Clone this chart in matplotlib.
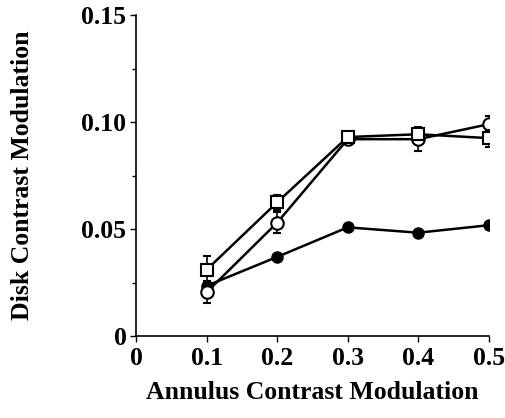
import matplotlib
matplotlib.use("Agg")
import matplotlib.pyplot as plt
from matplotlib.ticker import MultipleLocator

# data
annulus = [0.1, 0.2, 0.3, 0.4, 0.5]
square_vals = [0.031, 0.0625, 0.093, 0.0943, 0.0925]
square_err = [0.0065, 0.0035, 0.0015, 0.002, 0.004]
open_vals = [0.0205, 0.053, 0.092, 0.092, 0.099]
open_err = [0.005, 0.005, 0.0015, 0.0055, 0.004]
filled_vals = [0.0235, 0.037, 0.0508, 0.0483, 0.0518]

x_ticks = [0, 0.1, 0.2, 0.3, 0.4, 0.5]
x_labels = ["0", "0.1", "0.2", "0.3", "0.4", "0.5"]
y_ticks = [0, 0.05, 0.10, 0.15]
y_labels = ["0", "0.05", "0.10", "0.15"]

plt.rcParams["font.family"] = ["Liberation Serif", "DejaVu Serif"]
plt.rcParams["font.weight"] = "bold"

fig = plt.figure(figsize=(5.06, 4.18), dpi=100)
ax = fig.add_axes([0.269, 0.196, 0.697, 0.768])

lw = 1.8
ax.errorbar(annulus, filled_vals, color="black", lw=lw, marker="o", ms=8,
            mfc="black", mec="black", zorder=2)
ax.errorbar(annulus, open_vals, yerr=open_err, color="black", lw=lw, marker="o",
            ms=9, mfc="white", mec="black", mew=1.5, capsize=3, elinewidth=1.2,
            zorder=3)
ax.errorbar(annulus, square_vals, yerr=square_err, color="black", lw=lw, marker="s",
            ms=9, mfc="white", mec="black", mew=1.5, capsize=3, elinewidth=1.2,
            zorder=4)

ax.set_xlim(0, 0.5)
ax.set_ylim(0, 0.15)
ax.set_xticks(x_ticks)
ax.set_xticklabels(x_labels, fontsize=18.5, fontweight="bold")
ax.set_yticks(y_ticks)
ax.set_yticklabels(y_labels, fontsize=18.5, fontweight="bold")
ax.yaxis.set_minor_locator(MultipleLocator(0.025))
ax.tick_params(axis="x", which="major", direction="out", length=4, width=1, pad=4)
ax.tick_params(axis="y", which="major", direction="out", length=4, width=1, pad=3)
ax.tick_params(axis="y", which="minor", direction="out", length=3, width=1)

for s in ["top", "right"]:
    ax.spines[s].set_visible(False)
for s in ["left", "bottom"]:
    ax.spines[s].set_linewidth(1.2)

ax.set_xlabel("Annulus Contrast Modulation", fontsize=18.5, fontweight="bold", labelpad=8)
ax.set_ylabel("Disk Contrast Modulation", fontsize=18.5, fontweight="bold", labelpad=34)

fig.savefig("out.png", dpi=100)
